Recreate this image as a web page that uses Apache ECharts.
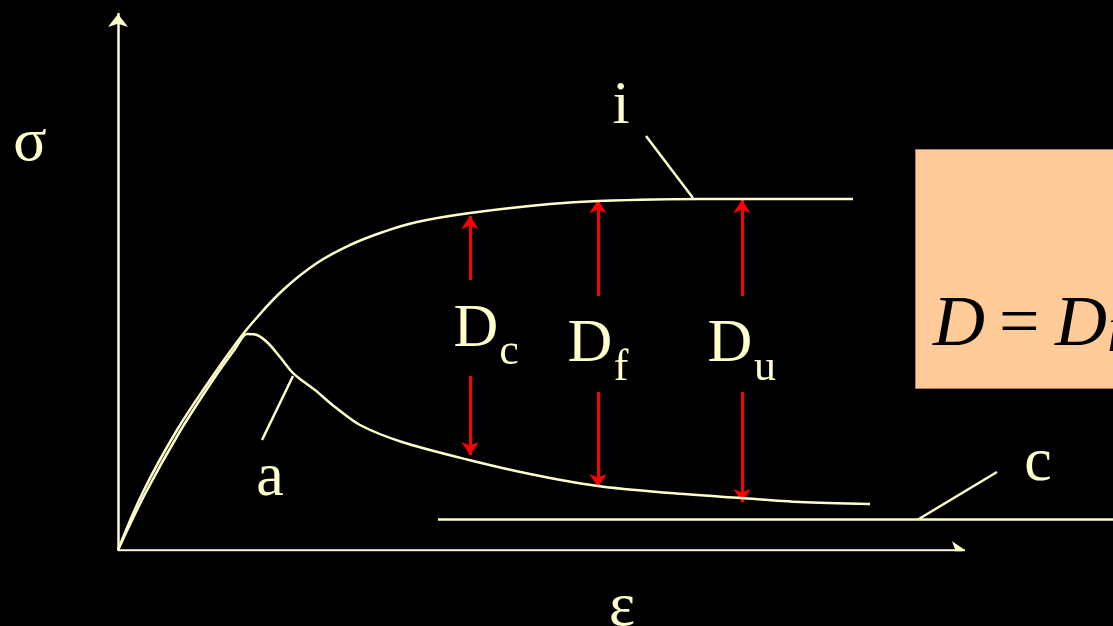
<!DOCTYPE html>
<html><head><meta charset="utf-8">
<script src="https://cdn.jsdelivr.net/npm/echarts@6/dist/echarts.min.js"></script>
<style>html,body{margin:0;padding:0;background:#000;}#c{width:1113px;height:626px;}</style>
</head><body><div id="c"></div>
<script>
// Units: strain (x) and stress (y), measured from the origin of the diagram
const curveI = [[0,0],[25,58],[59,120],[92,170],[119,208],[135,228],[165,260],[199,287],[232,305],[265,318],[299,328],[352,337],[432,346],[480,349],[582,351],[735,351]];
const curveA = [[0,0],[27,56],[61,117],[95,170],[117,201],[129,216],[139,215],[150,207],[162,193],[174,178],[182,171],[197,160],[217,143],[242,125],[284,108],[351,90],[412,76],[480,64],[552,57],[623,52],[682,48],[752,46]];
const curveC = [[320,30.5],[995,30.5]];
const leaderI = [[528,414],[575,352]];
const leaderA = [[144,110],[175,174]];
const leaderC = [[879,78],[800,30.5]];
const strainAxisEnd = 847;
// Damage arrows: [x, from, to]
const arrowsUp = [[352,270,334],[480,254,350],[624,254,350]];
const arrowsDown = [[352,174,95],[480,158,63],[624,158,48]];
// Annotation texts: [text, x, y, kind]
const labels = [['i',503,443,'main'],['a',152,71,'main'],['c',920,86,'main'],['σ',-88,406,'main'],['ε',504,-59,'main'],
  ['D',358,220,'main'],['c',391,198,'sub'],['D',472,205,'main'],['f',503,182,'sub'],['D',612,205,'main'],['u',647,182,'sub']];

const CREAM = '#FFFFCC';
const SERIF = '"Liberation Serif","Times New Roman",serif';
const chart = echarts.init(document.getElementById('c'));
const lineS = (data, smooth) => ({type:'line', data, smooth: smooth || false, showSymbol:false, clip:false, silent:true,
  lineStyle:{color:CREAM, width:2.5}});
chart.setOption({
  backgroundColor:'#000',
  animation:false,
  grid:{left:118, right:0, top:14, bottom:76},
  xAxis:{type:'value', min:0, max:995, axisTick:{show:false}, axisLabel:{show:false}, splitLine:{show:false}, axisLine:{show:false}},
  yAxis:{type:'value', min:0, max:536, axisTick:{show:false}, axisLabel:{show:false}, splitLine:{show:false},
    axisLine:{show:true, symbol:['none','arrow'], symbolSize:[15,13], lineStyle:{color:CREAM, width:2.5}}},
  series:[
    {type:'lines', coordinateSystem:'cartesian2d', silent:true, symbol:['none','arrow'], symbolSize:[15,13],
     lineStyle:{color:CREAM, width:2.5, opacity:1}, data:[{coords:[[0,0],[strainAxisEnd,0]]}]},
    lineS(curveI, 0.4),
    lineS(curveA, 0.3),
    lineS(curveC),
    lineS(leaderI), lineS(leaderA), lineS(leaderC),
    {type:'lines', coordinateSystem:'cartesian2d', silent:true, symbol:['none','arrow'], symbolSize:[11,13],
     lineStyle:{color:'#FF0000', width:3, opacity:1},
     data: arrowsUp.concat(arrowsDown).map(a => ({coords:[[a[0],a[1]],[a[0],a[2]]]}))},
    {type:'scatter', symbolSize:0, clip:false, silent:true, itemStyle:{opacity:1},
     data: labels.map(l => ({value:[l[1], l[2]], label:{show:true, formatter:l[0], position:'inside', align:'center', verticalAlign:'middle',
       color:CREAM, opacity:1, fontFamily:SERIF, fontSize: l[3]==='main' ? 62 : 44, lineHeight: l[3]==='main' ? 62 : 44}}))}
  ],
  graphic:[
    {type:'rect', shape:{x:915.5, y:149.5, width:300, height:239}, style:{fill:'#FFCC99', stroke:'#A08060', lineWidth:1}},
    {type:'text', x:933, y:290, style:{text:'D', font:'italic 72px "Liberation Serif"', fill:'#000', textBaseline:'alphabetic'}},
    {type:'text', x:999, y:290, style:{text:'=', font:'72px "Liberation Serif"', fill:'#000', textBaseline:'alphabetic'}},
    {type:'text', x:1055, y:290, style:{text:'D', font:'italic 72px "Liberation Serif"', fill:'#000', textBaseline:'alphabetic'}},
    {type:'text', x:1109, y:306, style:{text:'f', font:'italic 46px "Liberation Serif"', fill:'#000', textBaseline:'alphabetic'}}
  ]
});
</script></body></html>
